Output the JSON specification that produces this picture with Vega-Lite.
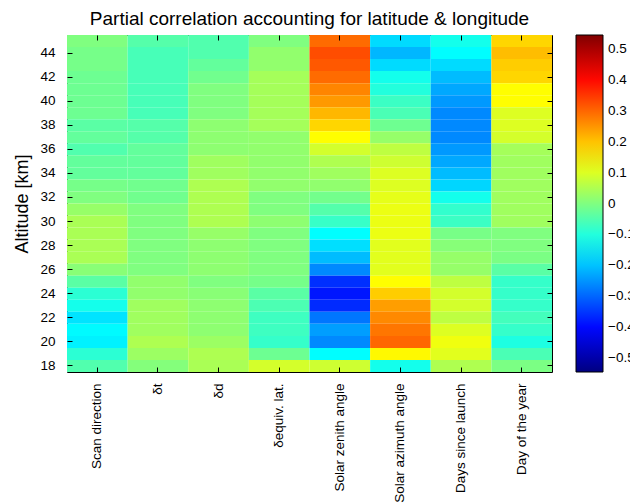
{
  "$schema": "https://vega.github.io/schema/vega-lite/v6.json",
  "width": 485,
  "height": 337,
  "autosize": {"type": "none"},
  "padding": {"left": 67, "top": 35, "right": 78, "bottom": 132},
  "background": "white",
  "config": {
    "font": "Liberation Sans",
    "view": {"stroke": "black", "strokeWidth": 1}
  },
  "title": {
    "text": "Partial correlation accounting for latitude & longitude",
    "fontSize": 19,
    "fontWeight": "normal",
    "color": "black",
    "font": "Liberation Sans",
    "offset": 6
  },
  "data": {
    "values": [
      {"var": "Scan direction", "alt": 45, "r": 0.0},
      {"var": "Scan direction", "alt": 44, "r": -0.01},
      {"var": "Scan direction", "alt": 43, "r": -0.01},
      {"var": "Scan direction", "alt": 42, "r": -0.02},
      {"var": "Scan direction", "alt": 41, "r": -0.02},
      {"var": "Scan direction", "alt": 40, "r": -0.02},
      {"var": "Scan direction", "alt": 39, "r": -0.02},
      {"var": "Scan direction", "alt": 38, "r": -0.04},
      {"var": "Scan direction", "alt": 37, "r": -0.03},
      {"var": "Scan direction", "alt": 36, "r": -0.05},
      {"var": "Scan direction", "alt": 35, "r": -0.03},
      {"var": "Scan direction", "alt": 34, "r": -0.03},
      {"var": "Scan direction", "alt": 33, "r": -0.01},
      {"var": "Scan direction", "alt": 32, "r": 0.0},
      {"var": "Scan direction", "alt": 31, "r": 0.025},
      {"var": "Scan direction", "alt": 30, "r": 0.045},
      {"var": "Scan direction", "alt": 29, "r": 0.045},
      {"var": "Scan direction", "alt": 28, "r": 0.045},
      {"var": "Scan direction", "alt": 27, "r": 0.045},
      {"var": "Scan direction", "alt": 26, "r": 0.01},
      {"var": "Scan direction", "alt": 25, "r": -0.04},
      {"var": "Scan direction", "alt": 24, "r": -0.09},
      {"var": "Scan direction", "alt": 23, "r": -0.115},
      {"var": "Scan direction", "alt": 22, "r": -0.165},
      {"var": "Scan direction", "alt": 21, "r": -0.14},
      {"var": "Scan direction", "alt": 20, "r": -0.15},
      {"var": "Scan direction", "alt": 19, "r": -0.09},
      {"var": "Scan direction", "alt": 18, "r": -0.05},

      {"var": "δt", "alt": 45, "r": -0.045},
      {"var": "δt", "alt": 44, "r": -0.06},
      {"var": "δt", "alt": 43, "r": -0.06},
      {"var": "δt", "alt": 42, "r": -0.06},
      {"var": "δt", "alt": 41, "r": -0.06},
      {"var": "δt", "alt": 40, "r": -0.06},
      {"var": "δt", "alt": 39, "r": -0.06},
      {"var": "δt", "alt": 38, "r": -0.045},
      {"var": "δt", "alt": 37, "r": -0.045},
      {"var": "δt", "alt": 36, "r": -0.03},
      {"var": "δt", "alt": 35, "r": -0.03},
      {"var": "δt", "alt": 34, "r": -0.03},
      {"var": "δt", "alt": 33, "r": -0.015},
      {"var": "δt", "alt": 32, "r": -0.015},
      {"var": "δt", "alt": 31, "r": 0.0},
      {"var": "δt", "alt": 30, "r": 0.0},
      {"var": "δt", "alt": 29, "r": 0.0},
      {"var": "δt", "alt": 28, "r": 0.0},
      {"var": "δt", "alt": 27, "r": 0.0},
      {"var": "δt", "alt": 26, "r": 0.0},
      {"var": "δt", "alt": 25, "r": 0.02},
      {"var": "δt", "alt": 24, "r": 0.02},
      {"var": "δt", "alt": 23, "r": 0.035},
      {"var": "δt", "alt": 22, "r": 0.035},
      {"var": "δt", "alt": 21, "r": 0.035},
      {"var": "δt", "alt": 20, "r": 0.05},
      {"var": "δt", "alt": 19, "r": 0.03},
      {"var": "δt", "alt": 18, "r": 0.005},

      {"var": "δd", "alt": 45, "r": -0.05},
      {"var": "δd", "alt": 44, "r": -0.05},
      {"var": "δd", "alt": 43, "r": -0.03},
      {"var": "δd", "alt": 42, "r": -0.015},
      {"var": "δd", "alt": 41, "r": 0.0},
      {"var": "δd", "alt": 40, "r": 0.0},
      {"var": "δd", "alt": 39, "r": 0.0},
      {"var": "δd", "alt": 38, "r": 0.015},
      {"var": "δd", "alt": 37, "r": 0.015},
      {"var": "δd", "alt": 36, "r": 0.015},
      {"var": "δd", "alt": 35, "r": 0.035},
      {"var": "δd", "alt": 34, "r": 0.035},
      {"var": "δd", "alt": 33, "r": 0.05},
      {"var": "δd", "alt": 32, "r": 0.05},
      {"var": "δd", "alt": 31, "r": 0.05},
      {"var": "δd", "alt": 30, "r": 0.05},
      {"var": "δd", "alt": 29, "r": 0.025},
      {"var": "δd", "alt": 28, "r": 0.015},
      {"var": "δd", "alt": 27, "r": 0.015},
      {"var": "δd", "alt": 26, "r": 0.015},
      {"var": "δd", "alt": 25, "r": 0.0},
      {"var": "δd", "alt": 24, "r": 0.01},
      {"var": "δd", "alt": 23, "r": 0.015},
      {"var": "δd", "alt": 22, "r": 0.015},
      {"var": "δd", "alt": 21, "r": 0.015},
      {"var": "δd", "alt": 20, "r": 0.03},
      {"var": "δd", "alt": 19, "r": 0.05},
      {"var": "δd", "alt": 18, "r": 0.045},

      {"var": "δequiv. lat.", "alt": 45, "r": 0.0},
      {"var": "δequiv. lat.", "alt": 44, "r": 0.02},
      {"var": "δequiv. lat.", "alt": 43, "r": 0.02},
      {"var": "δequiv. lat.", "alt": 42, "r": 0.04},
      {"var": "δequiv. lat.", "alt": 41, "r": 0.04},
      {"var": "δequiv. lat.", "alt": 40, "r": 0.04},
      {"var": "δequiv. lat.", "alt": 39, "r": 0.04},
      {"var": "δequiv. lat.", "alt": 38, "r": 0.04},
      {"var": "δequiv. lat.", "alt": 37, "r": 0.02},
      {"var": "δequiv. lat.", "alt": 36, "r": 0.02},
      {"var": "δequiv. lat.", "alt": 35, "r": 0.02},
      {"var": "δequiv. lat.", "alt": 34, "r": 0.02},
      {"var": "δequiv. lat.", "alt": 33, "r": 0.02},
      {"var": "δequiv. lat.", "alt": 32, "r": 0.0},
      {"var": "δequiv. lat.", "alt": 31, "r": 0.0},
      {"var": "δequiv. lat.", "alt": 30, "r": 0.015},
      {"var": "δequiv. lat.", "alt": 29, "r": 0.0},
      {"var": "δequiv. lat.", "alt": 28, "r": 0.0},
      {"var": "δequiv. lat.", "alt": 27, "r": 0.0},
      {"var": "δequiv. lat.", "alt": 26, "r": 0.0},
      {"var": "δequiv. lat.", "alt": 25, "r": -0.01},
      {"var": "δequiv. lat.", "alt": 24, "r": -0.04},
      {"var": "δequiv. lat.", "alt": 23, "r": -0.055},
      {"var": "δequiv. lat.", "alt": 22, "r": -0.07},
      {"var": "δequiv. lat.", "alt": 21, "r": -0.07},
      {"var": "δequiv. lat.", "alt": 20, "r": -0.08},
      {"var": "δequiv. lat.", "alt": 19, "r": -0.02},
      {"var": "δequiv. lat.", "alt": 18, "r": 0.09},

      {"var": "Solar zenith angle", "alt": 45, "r": 0.294},
      {"var": "Solar zenith angle", "alt": 44, "r": 0.326},
      {"var": "Solar zenith angle", "alt": 43, "r": 0.315},
      {"var": "Solar zenith angle", "alt": 42, "r": 0.294},
      {"var": "Solar zenith angle", "alt": 41, "r": 0.267},
      {"var": "Solar zenith angle", "alt": 40, "r": 0.245},
      {"var": "Solar zenith angle", "alt": 39, "r": 0.213},
      {"var": "Solar zenith angle", "alt": 38, "r": 0.18},
      {"var": "Solar zenith angle", "alt": 37, "r": 0.1375},
      {"var": "Solar zenith angle", "alt": 36, "r": 0.089},
      {"var": "Solar zenith angle", "alt": 35, "r": 0.051},
      {"var": "Solar zenith angle", "alt": 34, "r": 0.035},
      {"var": "Solar zenith angle", "alt": 33, "r": 0.019},
      {"var": "Solar zenith angle", "alt": 32, "r": -0.013},
      {"var": "Solar zenith angle", "alt": 31, "r": -0.046},
      {"var": "Solar zenith angle", "alt": 30, "r": -0.078},
      {"var": "Solar zenith angle", "alt": 29, "r": -0.1375},
      {"var": "Solar zenith angle", "alt": 28, "r": -0.17},
      {"var": "Solar zenith angle", "alt": 27, "r": -0.208},
      {"var": "Solar zenith angle", "alt": 26, "r": -0.262},
      {"var": "Solar zenith angle", "alt": 25, "r": -0.359},
      {"var": "Solar zenith angle", "alt": 24, "r": -0.385},
      {"var": "Solar zenith angle", "alt": 23, "r": -0.364},
      {"var": "Solar zenith angle", "alt": 22, "r": -0.283},
      {"var": "Solar zenith angle", "alt": 21, "r": -0.24},
      {"var": "Solar zenith angle", "alt": 20, "r": -0.262},
      {"var": "Solar zenith angle", "alt": 19, "r": -0.1375},
      {"var": "Solar zenith angle", "alt": 18, "r": 0.084},

      {"var": "Solar azimuth angle", "alt": 45, "r": -0.175},
      {"var": "Solar azimuth angle", "alt": 44, "r": -0.213},
      {"var": "Solar azimuth angle", "alt": 43, "r": -0.175},
      {"var": "Solar azimuth angle", "alt": 42, "r": -0.116},
      {"var": "Solar azimuth angle", "alt": 41, "r": -0.1},
      {"var": "Solar azimuth angle", "alt": 40, "r": -0.073},
      {"var": "Solar azimuth angle", "alt": 39, "r": -0.057},
      {"var": "Solar azimuth angle", "alt": 38, "r": -0.019},
      {"var": "Solar azimuth angle", "alt": 37, "r": 0.024},
      {"var": "Solar azimuth angle", "alt": 36, "r": 0.067},
      {"var": "Solar azimuth angle", "alt": 35, "r": 0.084},
      {"var": "Solar azimuth angle", "alt": 34, "r": 0.1},
      {"var": "Solar azimuth angle", "alt": 33, "r": 0.1},
      {"var": "Solar azimuth angle", "alt": 32, "r": 0.11},
      {"var": "Solar azimuth angle", "alt": 31, "r": 0.116},
      {"var": "Solar azimuth angle", "alt": 30, "r": 0.116},
      {"var": "Solar azimuth angle", "alt": 29, "r": 0.116},
      {"var": "Solar azimuth angle", "alt": 28, "r": 0.105},
      {"var": "Solar azimuth angle", "alt": 27, "r": 0.105},
      {"var": "Solar azimuth angle", "alt": 26, "r": 0.105},
      {"var": "Solar azimuth angle", "alt": 25, "r": 0.1375},
      {"var": "Solar azimuth angle", "alt": 24, "r": 0.19},
      {"var": "Solar azimuth angle", "alt": 23, "r": 0.24},
      {"var": "Solar azimuth angle", "alt": 22, "r": 0.262},
      {"var": "Solar azimuth angle", "alt": 21, "r": 0.283},
      {"var": "Solar azimuth angle", "alt": 20, "r": 0.299},
      {"var": "Solar azimuth angle", "alt": 19, "r": 0.143},
      {"var": "Solar azimuth angle", "alt": 18, "r": -0.116},

      {"var": "Days since launch", "alt": 45, "r": -0.116},
      {"var": "Days since launch", "alt": 44, "r": -0.1375},
      {"var": "Days since launch", "alt": 43, "r": -0.175},
      {"var": "Days since launch", "alt": 42, "r": -0.208},
      {"var": "Days since launch", "alt": 41, "r": -0.229},
      {"var": "Days since launch", "alt": 40, "r": -0.245},
      {"var": "Days since launch", "alt": 39, "r": -0.262},
      {"var": "Days since launch", "alt": 38, "r": -0.262},
      {"var": "Days since launch", "alt": 37, "r": -0.262},
      {"var": "Days since launch", "alt": 36, "r": -0.245},
      {"var": "Days since launch", "alt": 35, "r": -0.229},
      {"var": "Days since launch", "alt": 34, "r": -0.208},
      {"var": "Days since launch", "alt": 33, "r": -0.18},
      {"var": "Days since launch", "alt": 32, "r": -0.116},
      {"var": "Days since launch", "alt": 31, "r": -0.083},
      {"var": "Days since launch", "alt": 30, "r": -0.073},
      {"var": "Days since launch", "alt": 29, "r": -0.008},
      {"var": "Days since launch", "alt": 28, "r": 0.008},
      {"var": "Days since launch", "alt": 27, "r": 0.024},
      {"var": "Days since launch", "alt": 26, "r": 0.024},
      {"var": "Days since launch", "alt": 25, "r": 0.067},
      {"var": "Days since launch", "alt": 24, "r": 0.089},
      {"var": "Days since launch", "alt": 23, "r": 0.089},
      {"var": "Days since launch", "alt": 22, "r": 0.067},
      {"var": "Days since launch", "alt": 21, "r": 0.1},
      {"var": "Days since launch", "alt": 20, "r": 0.12},
      {"var": "Days since launch", "alt": 19, "r": 0.105},
      {"var": "Days since launch", "alt": 18, "r": 0.051},

      {"var": "Day of the year", "alt": 45, "r": 0.18},
      {"var": "Day of the year", "alt": 44, "r": 0.207},
      {"var": "Day of the year", "alt": 43, "r": 0.19},
      {"var": "Day of the year", "alt": 42, "r": 0.18},
      {"var": "Day of the year", "alt": 41, "r": 0.1375},
      {"var": "Day of the year", "alt": 40, "r": 0.1375},
      {"var": "Day of the year", "alt": 39, "r": 0.1},
      {"var": "Day of the year", "alt": 38, "r": 0.1},
      {"var": "Day of the year", "alt": 37, "r": 0.09},
      {"var": "Day of the year", "alt": 36, "r": 0.04},
      {"var": "Day of the year", "alt": 35, "r": 0.035},
      {"var": "Day of the year", "alt": 34, "r": 0.035},
      {"var": "Day of the year", "alt": 33, "r": 0.035},
      {"var": "Day of the year", "alt": 32, "r": 0.035},
      {"var": "Day of the year", "alt": 31, "r": 0.035},
      {"var": "Day of the year", "alt": 30, "r": 0.035},
      {"var": "Day of the year", "alt": 29, "r": 0.0},
      {"var": "Day of the year", "alt": 28, "r": 0.0},
      {"var": "Day of the year", "alt": 27, "r": -0.005},
      {"var": "Day of the year", "alt": 26, "r": -0.04},
      {"var": "Day of the year", "alt": 25, "r": -0.08},
      {"var": "Day of the year", "alt": 24, "r": -0.08},
      {"var": "Day of the year", "alt": 23, "r": -0.08},
      {"var": "Day of the year", "alt": 22, "r": -0.065},
      {"var": "Day of the year", "alt": 21, "r": -0.08},
      {"var": "Day of the year", "alt": 20, "r": -0.105},
      {"var": "Day of the year", "alt": 19, "r": -0.057},
      {"var": "Day of the year", "alt": 18, "r": -0.005}
    ]
  },
  "layer": [
    {
      "mark": {"type": "rect"},
      "encoding": {
        "x": {
          "field": "var",
          "type": "nominal",
          "sort": ["Scan direction", "δt", "δd", "δequiv. lat.", "Solar zenith angle", "Solar azimuth angle", "Days since launch", "Day of the year"],
          "scale": {"paddingInner": 0, "paddingOuter": 0},
          "axis": {
            "orient": "bottom",
            "title": null,
            "labelAngle": -90,
            "labelFontSize": 13.5,
            "labelFont": "Liberation Sans",
            "labelColor": "black",
            "tickColor": "black",
            "tickSize": -5,
            "labelPadding": 16,
            "domain": false,
            "zindex": 1
          }
        },
        "y": {
          "field": "alt",
          "type": "ordinal",
          "sort": "descending",
          "scale": {"paddingInner": 0, "paddingOuter": 0},
          "axis": {
            "orient": "left",
            "values": [18, 20, 22, 24, 26, 28, 30, 32, 34, 36, 38, 40, 42, 44],
            "title": "Altitude [km]",
            "titleFontSize": 18,
            "titleFont": "Liberation Sans",
            "titleFontWeight": "normal",
            "titleColor": "black",
            "titlePadding": 8,
            "labelAngle": 0,
            "labelFontSize": 13.5,
            "labelFont": "Liberation Sans",
            "labelColor": "black",
            "tickColor": "black",
            "tickSize": -5,
            "labelPadding": 17,
            "domain": false,
            "zindex": 1
          }
        },
        "color": {
          "field": "r",
          "type": "quantitative",
          "scale": {
            "domain": [-0.545, -0.40875, -0.13625, 0.13625, 0.40875, 0.545],
            "range": ["#000080", "#0000ff", "#00ffff", "#ffff00", "#ff0000", "#800000"],
            "interpolate": "rgb"
          },
          "legend": {
            "orient": "right",
            "offset": 23,
            "padding": 0,
            "title": null,
            "direction": "vertical",
            "gradientLength": 337,
            "gradientThickness": 27,
            "gradientStrokeColor": "black",
            "gradientStrokeWidth": 1,
            "labelFontSize": 13.5,
            "labelFont": "Liberation Sans",
            "labelColor": "black",
            "labelOffset": 5,
            "labelOverlap": false,
            "values": [-0.5, -0.4, -0.3, -0.2, -0.1, 0, 0.1, 0.2, 0.3, 0.4, 0.5],
            "format": ".1~f"
          }
        }
      }
    },
    {
      "mark": {"type": "rect", "opacity": 0},
      "encoding": {
        "x": {
          "field": "var",
          "type": "nominal",
          "sort": ["Scan direction", "δt", "δd", "δequiv. lat.", "Solar zenith angle", "Solar azimuth angle", "Days since launch", "Day of the year"],
          "axis": {
            "orient": "top",
            "title": null,
            "labels": false,
            "tickColor": "black",
            "tickSize": -5,
            "domain": false,
            "zindex": 1
          }
        },
        "y": {
          "field": "alt",
          "type": "ordinal",
          "sort": "descending",
          "axis": {
            "orient": "right",
            "values": [18, 20, 22, 24, 26, 28, 30, 32, 34, 36, 38, 40, 42, 44],
            "title": null,
            "labels": false,
            "tickColor": "black",
            "tickSize": -5,
            "domain": false,
            "zindex": 1
          }
        }
      }
    }
  ],
  "resolve": {"axis": {"x": "independent", "y": "independent"}}
}
